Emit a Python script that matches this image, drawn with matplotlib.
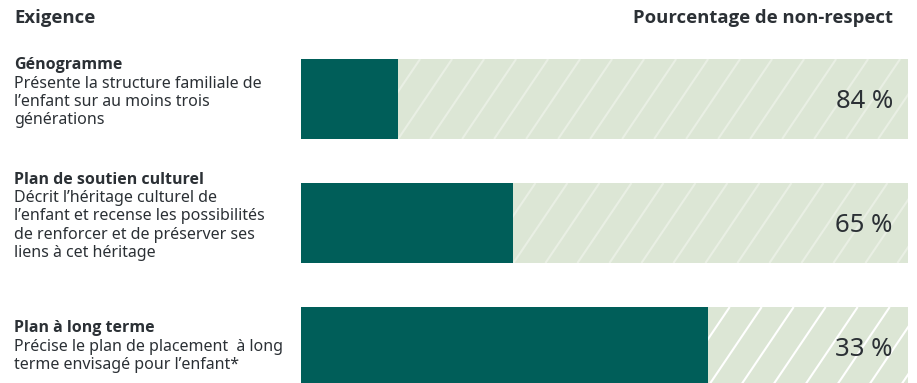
import matplotlib.pyplot as plt
import matplotlib.transforms as mtransforms
import numpy as np

plt.rcParams['font.family'] = ['Noto Sans', 'DejaVu Sans']
bold_family = ['Open Sans', 'DejaVu Sans']

# =========================
# data
# =========================
titles = ['Génogramme', 'Plan de soutien culturel', 'Plan à long terme']
descriptions = [
    "Présente la structure familiale de\nl’enfant sur au moins trois\ngénérations",
    "Décrit l’héritage culturel de\nl’enfant et recense les possibilités\nde renforcer et de préserver ses\nliens à cet héritage",
    "Précise le plan de placement  à long\nterme envisagé pour l’enfant*",
]
non_respect = [84, 65, 33]
respect = [100 - v for v in non_respect]

dark = '#005e59'
light = '#dce6d5'
text_col = '#2b3035'
hatch_cols = ['#e9efe4', '#e9efe4', '#ffffff']
text_nudge_px = [0, 0, 6]

# =========================
# figure
# =========================
W, H = 917, 383
fig = plt.figure(figsize=(W / 100, H / 100), dpi=100)
ax = fig.add_axes([301 / W, 0, 607 / W, 1])
row_px = 124
first_px = 99
ax.set_xlim(0, 100)
ax.set_ylim((H - first_px) / row_px, -first_px / row_px)
ax.axis('off')

ypos = np.arange(len(titles))
bar_h = 80 / row_px

ax.barh(ypos, respect, height=bar_h, color=dark)
light_bars = ax.barh(ypos, non_respect, left=respect, height=bar_h, color=light)

# diagonal white stripes on the light part
x_per_px = 100 / 607
step = 32 * x_per_px
slant = 54 * x_per_px
for rect, col in zip(light_bars, hatch_cols):
    y0 = rect.get_y()
    y1 = y0 + rect.get_height()
    for x0 in np.arange(rect.get_x() - 3 * step, 100 + step, step):
        ln, = ax.plot([x0, x0 + slant], [y1, y0], color=col, lw=1.5,
                      solid_capstyle='butt')
        ln.set_clip_path(rect)

# percentages
for y, v in zip(ypos, non_respect):
    ax.text(97.5, y + 0.02, f'{v} %', ha='right', va='center',
            fontsize=18.5, color=text_col)

# left labels
trans = mtransforms.blended_transform_factory(fig.transFigure, ax.transData)
line_h = 18.5 / row_px
for y, t, d, nudge in zip(ypos, titles, descriptions, text_nudge_px):
    n = d.count('\n') + 2
    top = y - n * line_h / 2 + (nudge - 5) / row_px
    ax.text(14 / W, top, t, transform=trans, ha='left', va='top',
            fontsize=11.5, fontweight='bold', family=bold_family,
            color=text_col)
    ax.text(14 / W, top + line_h, d, transform=trans, ha='left', va='top',
            fontsize=11.5, color=text_col, linespacing=1.18)

# headers
hy = (18 - first_px) / row_px
ax.text(14 / W, hy, 'Exigence', transform=trans, ha='left', va='center',
        fontsize=13.3, fontweight='bold', family=bold_family, color=text_col)
ax.text(97.5, hy, 'Pourcentage de non-respect', ha='right', va='center',
        fontsize=13.3, fontweight='bold', family=bold_family, color=text_col)

fig.savefig('out.png', dpi=100)
